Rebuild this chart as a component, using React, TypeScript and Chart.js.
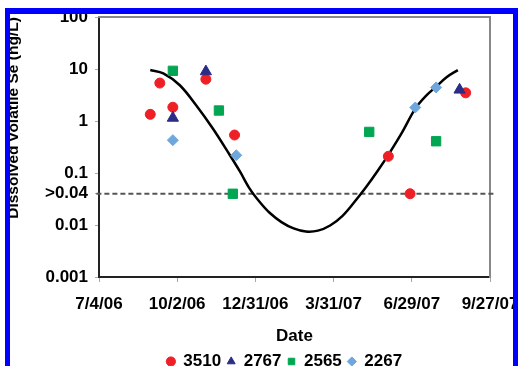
import { useEffect, useRef } from "react";
import { Chart, registerables } from "chart.js";

Chart.register(...registerables);

// ---- Data (dates as M/D/YY, concentrations in ng/L) ----
const series3510Dates = ["9/1/06", "9/12/06", "9/27/06", "11/4/06", "12/7/06", "6/2/07", "6/27/07", "8/30/07"];
const series3510Values = [1.35, 5.4, 1.85, 6.4, 0.54, 0.21, 0.04, 3.5];

const series2767Dates = ["9/27/06", "11/4/06", "8/23/07"];
const series2767Values = [1.15, 9.0, 4.0];

const series2565Dates = ["9/27/06", "11/19/06", "12/5/06", "5/11/07", "7/27/07"];
const series2565Values = [9.3, 1.6, 0.04, 0.62, 0.41];

const series2267Dates = ["9/27/06", "12/9/06", "7/3/07", "7/27/07"];
const series2267Values = [0.43, 0.22, 1.83, 4.45];

// fitted seasonal curve
const curveDates = [
  "9/1/06", "9/16/06", "10/5/06", "10/24/06", "11/12/06", "12/1/06", "12/13/06",
  "12/24/06", "1/5/07", "1/16/07", "1/30/07", "2/13/07", "2/27/07", "3/13/07",
  "3/27/07", "4/10/07", "4/23/07", "5/7/07", "5/21/07", "6/4/07", "6/18/07",
  "7/3/07", "7/15/07", "7/27/07", "8/8/07", "8/21/07",
];
const curveValues = [
  9.6, 8.3, 4.9, 2.0, 0.72, 0.23, 0.109,
  0.0515, 0.0277, 0.0174, 0.0114, 0.0086, 0.0075, 0.0078,
  0.0098, 0.0149, 0.0265, 0.0526, 0.112, 0.254, 0.614,
  1.74, 3.03, 4.6, 7.0, 9.6,
];

const detectionLimit = 0.04;
const detectionLineDates = ["7/1/06", "10/2/07"];

const xTickLabels = ["7/4/06", "10/2/06", "12/31/06", "3/31/07", "6/29/07", "9/27/07"];
const yTickValues = [0.001, 0.01, 0.04, 0.1, 1, 10, 100];
const yTickLabels = ["0.001", "0.01", ">0.04", "0.1", "1", "10", "100"];

const seriesNames = ["3510", "2767", "2565", "2267"];

// ---- helpers ----
function toDay(s: string): number {
  const [m, d, y] = s.split("/").map(Number);
  return Math.round((Date.UTC(2000 + y, m - 1, d) - Date.UTC(2006, 6, 4)) / 86400000);
}
function pts(dates: string[], values: number[]) {
  return dates.map((d, i) => ({ x: toDay(d), y: values[i] }));
}

const FAMILY = "'Liberation Sans', Arial, Helvetica, sans-serif";
const font = { family: FAMILY, size: 17, weight: "bold" as const };

export default function App() {
  const ref = useRef<HTMLCanvasElement | null>(null);

  useEffect(() => {
    if (!ref.current) return;
    const chart = new Chart(ref.current, {
      type: "scatter",
      data: {
        datasets: [
          {
            label: seriesNames[0],
            data: pts(series3510Dates, series3510Values),
            pointStyle: "circle",
            pointRadius: 5,
            backgroundColor: "#ee2026",
            borderColor: "#ee2026",
            borderWidth: 1,
            order: 1,
          },
          {
            label: seriesNames[1],
            data: pts(series2767Dates, series2767Values),
            pointStyle: "triangle",
            pointRadius: 6.5,
            backgroundColor: "#2b2c86",
            borderColor: "#2b2c86",
            borderWidth: 1,
            order: 0,
          },
          {
            label: seriesNames[2],
            data: pts(series2565Dates, series2565Values),
            pointStyle: "rect",
            pointRadius: 6.6,
            backgroundColor: "#00a651",
            borderColor: "#00a651",
            borderWidth: 1,
            order: 0,
          },
          {
            label: seriesNames[3],
            data: pts(series2267Dates, series2267Values),
            pointStyle: "rectRot",
            pointRadius: 5.5,
            backgroundColor: "#6ea7dd",
            borderColor: "#6ea7dd",
            borderWidth: 1,
            order: 0,
          },
          {
            label: "curve",
            data: pts(curveDates, curveValues),
            showLine: true,
            pointRadius: 0,
            borderColor: "#000",
            borderWidth: 2.5,
            tension: 0.35,
            fill: false,
            order: 10,
          } as any,
          {
            label: "limit",
            data: detectionLineDates.map((d) => ({ x: toDay(d), y: detectionLimit })),
            showLine: true,
            pointRadius: 0,
            borderColor: "#555",
            borderWidth: 2,
            borderDash: [5, 3],
            fill: false,
            clip: false,
            order: 11,
          } as any,
        ],
      },
      options: {
        animation: false,
        responsive: false,
        layout: { padding: 0 },
        plugins: {
          legend: {
            position: "bottom",
            labels: {
              usePointStyle: true,
              boxWidth: 8,
              boxHeight: 6.5,
              padding: 6,
              color: "#000",
              font,
              filter: (item: any) => item.datasetIndex < 4,
              sort: (a: any, b: any) => a.datasetIndex - b.datasetIndex,
            },
          },
          tooltip: { enabled: false },
        },
        scales: {
          x: {
            type: "linear",
            position: "bottom",
            min: toDay(xTickLabels[0]),
            max: toDay(xTickLabels[xTickLabels.length - 1]),
            afterBuildTicks: (s: any) => {
              s.ticks = xTickLabels.map((l) => ({ value: toDay(l) }));
            },
            afterFit: (s: any) => {
              s.height = 70;
            },
            ticks: {
              autoSkip: false,
              maxRotation: 0,
              minRotation: 0,
              padding: 12,
              color: "#000",
              font,
              callback: (_v: any, i: number) => xTickLabels[i],
            },
            grid: { display: true, drawOnChartArea: false, drawTicks: true, tickLength: 5, color: "#aaa" },
            border: { display: true, color: "#222", width: 2 },
            title: { display: true, text: "Date", color: "#000", font, padding: { top: 0, bottom: 0 } },
          },
          y: {
            type: "logarithmic",
            position: "left",
            min: 0.001,
            max: 100,
            afterBuildTicks: (s: any) => {
              s.ticks = yTickValues.map((v) => ({ value: v }));
            },
            afterFit: (s: any) => {
              s.width = 99;
            },
            ticks: {
              autoSkip: false,
              padding: 7,
              color: "#000",
              font,
              callback: (_v: any, i: number) => yTickLabels[i],
            },
            grid: { display: true, drawOnChartArea: false, drawTicks: true, tickLength: 4, color: "#aaa" },
            border: { display: true, color: "#222", width: 2 },
            title: {
              display: true,
              text: "Dissolved volatile Se (ng/L)",
              align: "end",
              color: "#000",
              font: { family: FAMILY, size: 15.5, weight: "bold" },
              padding: { top: 4, bottom: 0 },
            },
          },
          xTop: {
            type: "linear",
            position: "top",
            min: 0,
            max: 1,
            ticks: { display: false },
            grid: { display: false, drawTicks: false },
            border: { display: true, color: "#888", width: 2 },
            afterFit: (s: any) => {
              s.height = 17;
            },
          },
          yRight: {
            type: "linear",
            position: "right",
            min: 0,
            max: 1,
            ticks: { display: false },
            grid: { display: false, drawTicks: false },
            border: { display: true, color: "#888", width: 2 },
            afterFit: (s: any) => {
              s.width = 79;
            },
          },
        },
      } as any,
    });
    return () => chart.destroy();
  }, []);

  return (
    <div
      style={{
        position: "fixed",
        left: 0,
        top: 0,
        width: 519,
        height: 366,
        overflow: "hidden",
        background: "#fff",
      }}
    >
      <canvas ref={ref} width={569} height={380} style={{ display: "block", width: 569, height: 380 }} />
      <div
        style={{
          position: "absolute",
          left: 5,
          top: 8,
          width: 513,
          height: 358,
          boxSizing: "border-box",
          borderTop: "6px solid #0000ff",
          borderLeft: "5px solid #0000ff",
          borderRight: "5px solid #0000ff",
          pointerEvents: "none",
        }}
      />
    </div>
  );
}
